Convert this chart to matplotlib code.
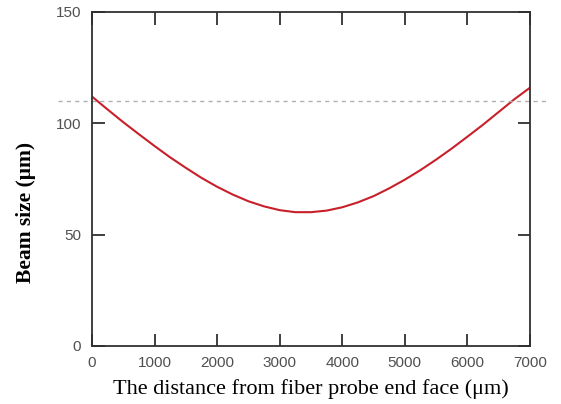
import numpy as np
import matplotlib.pyplot as plt

# beam size, every 250 um
distance = np.arange(0, 7001, 250)
beam_size = [112.0, 106.2, 100.5, 95.1, 89.8, 84.7, 80.0, 75.5, 71.5, 68.0,
             65.0, 62.7, 61.0, 60.1, 60.1, 60.8, 62.3, 64.5, 67.3, 70.8,
             74.7, 79.0, 83.7, 88.7, 94.0, 99.4, 105.1, 110.8, 116.0]
ref_level = 110

x_ticks = [0, 1000, 2000, 3000, 4000, 5000, 6000, 7000]
y_ticks = [0, 50, 100, 150]

plt.rcParams['font.family'] = ['Liberation Serif', 'DejaVu Serif']

fig = plt.figure(figsize=(5.61, 4.04), dpi=100)
ax = fig.add_axes([0.164, 0.1436, 0.7807, 0.8267])

ax.plot(distance, beam_size, color='#c8202a', lw=1.5)
ax.axhline(ref_level, xmin=-0.078, xmax=1.04, color='#b0b0b0', lw=1.0,
           ls=(0, (3, 3)), clip_on=False)

ax.set_xlim(0, 7000)
ax.set_ylim(0, 150)
ax.set_xticks(x_ticks)
ax.set_yticks(y_ticks)
ax.tick_params(direction='in', length=9, width=1.3, color='#303030',
               labelsize=11, labelcolor='#505050',
               top=True, right=True, pad=7)
ax.tick_params(axis='y', pad=8)
for lbl in ax.get_xticklabels() + ax.get_yticklabels():
    lbl.set_family('Liberation Sans')
for s in ax.spines.values():
    s.set_color('#303030')
    s.set_linewidth(1.3)

ax.set_xlabel('The distance from fiber probe end face (\u03bcm)', fontsize=16, labelpad=7)
ax.set_ylabel('Beam size (\u03bcm)', fontsize=15.5, fontweight='bold', labelpad=14, y=0.40)

fig.savefig('out.png', dpi=100)
